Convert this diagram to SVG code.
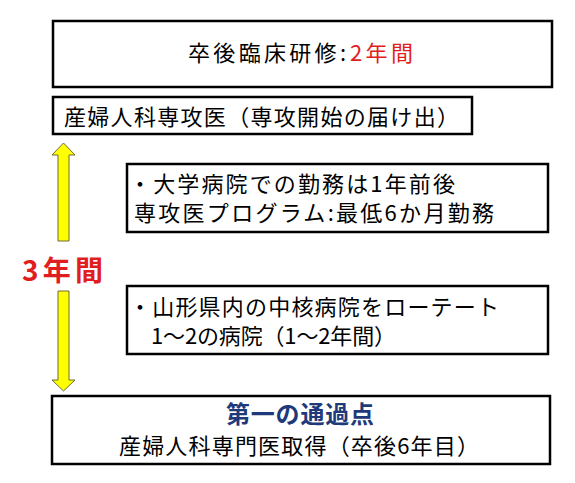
<svg xmlns="http://www.w3.org/2000/svg" width="575" height="483" viewBox="0 0 575 483">
<style>
.box{fill:#fff;stroke:#000;stroke-width:2.5}
.t{font-family:"Noto Sans CJK JP","Noto Sans",sans-serif;font-size:22px;fill:#000}
.red{fill:#e01e1e}
.navy{fill:#1f3a7a;font-weight:bold;font-size:24px}
.arrow{fill:#ffff00;stroke:#6b6b3a;stroke-width:1}
</style>
<rect width="575" height="483" fill="#fff"/>
<g id="connectors">
<polygon class="arrow" points="63.5,143 75,155 69,155 69,241 58,241 58,155 52,155"/>
<polygon class="arrow" points="58,291 69,291 69,380 75,380 63.5,391 52,380 58,380"/>
</g>
<g id="node-training">
<rect class="box" x="53" y="21" width="499" height="66"/>
<text class="t" x="188" y="61" font-size="24"><tspan textLength="158" lengthAdjust="spacing">卒後臨床研修:</tspan><tspan class="red" x="350" textLength="63" lengthAdjust="spacing">2年間</tspan></text>
</g>
<g id="node-senkoui">
<rect class="box" x="53" y="97" width="419" height="37"/>
<text class="t" x="64" y="125" textLength="395" lengthAdjust="spacing">産婦人科専攻医（専攻開始の届け出）</text>
</g>
<g id="label-3years">
<text x="22" y="281" font-family="'Noto Sans CJK JP',sans-serif" font-size="28" font-weight="bold" fill="#e01e1e" textLength="81" lengthAdjust="spacing">3年間</text>
</g>
<g id="node-university">
<rect class="box" x="127" y="164" width="421" height="68"/>
<text class="t" x="129" y="192" textLength="326" lengthAdjust="spacing">・大学病院での勤務は1年前後</text>
<text class="t" x="134" y="221" textLength="360" lengthAdjust="spacing">専攻医プログラム:最低6か月勤務</text>
</g>
<g id="node-rotation">
<rect class="box" x="127" y="286" width="421" height="68"/>
<text class="t" x="129" y="315" textLength="370" lengthAdjust="spacing">・山形県内の中核病院をローテート</text>
<text class="t" x="151" y="344" textLength="245" lengthAdjust="spacing">1〜2の病院（1〜2年間）</text>
</g>
<g id="node-specialist">
<rect class="box" x="52" y="396" width="498" height="68"/>
<text class="t navy" x="226" y="423" textLength="148" lengthAdjust="spacing">第一の通過点</text>
<text class="t" x="119" y="454" textLength="360" lengthAdjust="spacing">産婦人科専門医取得（卒後6年目）</text>
</g>
</svg>
